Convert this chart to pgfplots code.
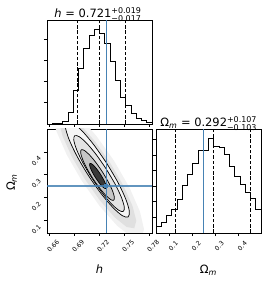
\documentclass[border=0pt]{standalone}
\usepackage{pgfplots}
\pgfplotsset{compat=1.18}
\usepackage{fontspec}
\setmainfont{DejaVu Sans}
\definecolor{truth}{RGB}{70,130,180}
\newcommand{\lbl}{\fontsize{11.5}{13}\selectfont}
\newcommand{\scr}{\fontsize{8}{9}\selectfont}
\begin{document}
\begin{tikzpicture}[x=1bp,y=1bp]
\useasboundingbox (0,0) rectangle (266,281);
\pgfplotsset{
  cornerax/.style={
    scale only axis, width=105bp, height=104bp,
    tick align=outside, major tick length=3bp,
    axis line style={line width=0.6pt},
    every tick/.style={black, line width=0.5pt},
    xtick pos=left, ytick pos=left,
    tick label style={font=\fontsize{6.3}{7}\selectfont},
    /pgf/number format/assume math mode=true,
    xticklabel style={rotate=45, anchor=center, yshift=-10bp, xshift=-4bp},
    yticklabel style={rotate=45, anchor=center, xshift=-12bp, yshift=-1bp},
    clip mode=individual,
  },
  hist/.style={const plot, black, line width=0.8pt},
  qline/.style={black, line width=0.7pt, dash pattern=on 3.5bp off 1.8bp},
  tline/.style={truth, line width=1.1pt},
  cont/.style={smooth, draw=black, line width=0.7pt},
}
% ---------- top: h histogram ----------
\begin{axis}[cornerax, at={(47bp,157bp)}, anchor=south west,
  xmin=0.6576, xmax=0.7836, ymin=0, ymax=4.88,
  xtick={0.66,0.69,0.72,0.75,0.78}, xticklabels={},
  ytick={1,2,3,4}, yticklabels={}]
\addplot[hist] coordinates {
(0.6576,0) (0.6576,0.00) (0.6639,0.02) (0.6702,0.05) (0.6765,0.10)
(0.6828,0.56) (0.6891,1.58) (0.6954,2.60) (0.7017,3.57) (0.7080,4.17)
(0.7143,4.44) (0.7206,4.25) (0.7269,3.77) (0.7332,2.95) (0.7395,2.05)
(0.7458,1.26) (0.7521,0.85) (0.7584,0.49) (0.7647,0.28) (0.7710,0.17)
(0.7773,0.06) (0.7836,0)};
\addplot[qline] coordinates {(0.694,0) (0.694,4.88)};
\addplot[qline] coordinates {(0.720,0) (0.720,4.88)};
\addplot[qline] coordinates {(0.752,0) (0.752,4.88)};
\addplot[tline] coordinates {(0.7285,0) (0.7285,4.88)};
\node[anchor=base, inner sep=0pt] at (axis description cs:0.485,1.02)
  {\lbl\itshape h\upshape{} = 0.721$^{\mbox{\scr +0.019}}_{\mbox{\scr −0.017}}$};
\end{axis}
% ---------- 2D panel ----------
\begin{axis}[cornerax, at={(47bp,48bp)}, anchor=south west,
  xmin=0.6576, xmax=0.7836, ymin=0.043, ymax=0.5,
  xtick={0.66,0.69,0.72,0.75,0.78}, xticklabels={0.66,0.69,0.72,0.75,0.78},
  ytick={0.1,0.2,0.3,0.4}, yticklabels={0.1,0.2,0.3,0.4}]
% sample cloud
\addplot[draw=none, fill=gray!11] coordinates {
(0.73803,0.36049) (0.71672,0.47032) (0.69573,0.55656) (0.67826,0.60610)
(0.66696,0.61137) (0.66356,0.57159) (0.66857,0.49281) (0.68123,0.38702)
(0.69962,0.27033) (0.72093,0.16050) (0.74192,0.07426) (0.75939,0.02472)
(0.77069,0.01945) (0.77409,0.05922) (0.76908,0.13801) (0.75642,0.24379)} -- cycle;
\addplot[draw=none, fill=gray!24] coordinates {
(0.73338,0.35100) (0.71536,0.44456) (0.69777,0.51846) (0.68329,0.56145)
(0.67414,0.56697) (0.67169,0.53421) (0.67633,0.46813) (0.68734,0.37880)
(0.70306,0.27982) (0.72108,0.18625) (0.73867,0.11236) (0.75315,0.06937)
(0.76230,0.06384) (0.76475,0.09661) (0.76011,0.16269) (0.74910,0.25202)} -- cycle;
% 2 sigma
\addplot[cont, fill=gray!8] coordinates {
(0.72910,0.35030) (0.71411,0.42901) (0.69971,0.49176) (0.68809,0.52901)
(0.68103,0.53507) (0.67958,0.50904) (0.68399,0.45485) (0.69357,0.38079)
(0.70686,0.29810) (0.72185,0.21939) (0.73625,0.15664) (0.74787,0.11939)
(0.75493,0.11333) (0.75638,0.13936) (0.75197,0.19355) (0.74240,0.26761)
(0.72910,0.35030)};
% 1.5 sigma
\addplot[cont, fill=gray!22] coordinates {
(0.72862,0.32459) (0.71680,0.38676) (0.70548,0.43640) (0.69636,0.46595)
(0.69086,0.47090) (0.68979,0.45051) (0.69333,0.40788) (0.70093,0.34950)
(0.71144,0.28425) (0.72326,0.22208) (0.73458,0.17244) (0.74370,0.14289)
(0.74920,0.13794) (0.75027,0.15833) (0.74673,0.20096) (0.73913,0.25934)
(0.72862,0.32459)};
% 1 sigma
\addplot[cont, fill=gray!45] coordinates {
(0.72408,0.31159) (0.71619,0.35302) (0.70861,0.38604) (0.70250,0.40564)
(0.69877,0.40882) (0.69801,0.39510) (0.70032,0.36658) (0.70536,0.32759)
(0.71236,0.28407) (0.72025,0.24264) (0.72783,0.20962) (0.73395,0.19003)
(0.73767,0.18685) (0.73843,0.20056) (0.73612,0.22908) (0.73108,0.26807)
(0.72408,0.31159)};
% 0.5 sigma
\addplot[cont, fill=black!78] coordinates {
(0.72186,0.30056) (0.71791,0.32125) (0.71409,0.33771) (0.71100,0.34743)
(0.70910,0.34893) (0.70868,0.34198) (0.70981,0.32765) (0.71230,0.30810)
(0.71579,0.28632) (0.71975,0.26563) (0.72356,0.24917) (0.72665,0.23945)
(0.72855,0.23795) (0.72897,0.24489) (0.72785,0.25923) (0.72535,0.27878)
(0.72186,0.30056)};
\addplot[truth, line width=1.6pt, opacity=0.85] coordinates {(0.6576,0.25) (0.7836,0.25)};
\addplot[tline] coordinates {(0.7285,0.043) (0.7285,0.5)};
\addplot[truth, only marks, mark=square*, mark size=1.4pt] coordinates {(0.7285,0.25)};
\node[anchor=base, inner sep=0pt] at (axis description cs:0.5,-0.394) {\lbl\itshape h};
\node[anchor=base, inner sep=0pt, rotate=90] at (axis description cs:-0.305,0.486)
  {\lbl Ω$_{\mbox{\scr\itshape m}}$};
\end{axis}
% ---------- right: Omega_m histogram ----------
\begin{axis}[cornerax, at={(156bp,48bp)}, anchor=south west,
  xmin=0.043, xmax=0.5, ymin=0, ymax=6.655,
  xtick={0.1,0.2,0.3,0.4}, xticklabels={0.1,0.2,0.3,0.4},
  ytick={1,2,3,4,5,6}, yticklabels={}]
\addplot[hist] coordinates {
(0.04300,0) (0.04300,0.43) (0.06585,0.66) (0.08870,1.11) (0.11155,1.54)
(0.13440,2.18) (0.15725,3.06) (0.18010,3.76) (0.20295,4.44) (0.22580,5.26)
(0.24865,5.30) (0.27150,6.05) (0.29435,5.56) (0.31720,5.47) (0.34005,5.02)
(0.36290,4.23) (0.38575,3.63) (0.40860,3.10) (0.43145,2.59) (0.45430,2.20)
(0.47715,1.54) (0.50000,0)};
\addplot[qline] coordinates {(0.1287,0) (0.1287,6.655)};
\addplot[qline] coordinates {(0.2920,0) (0.2920,6.655)};
\addplot[qline] coordinates {(0.4551,0) (0.4551,6.655)};
\addplot[tline] coordinates {(0.25,0) (0.25,6.655)};
\node[anchor=base, inner sep=0pt] at (axis description cs:0.502,1.02)
  {\lbl Ω$_{\mbox{\scr\itshape m}}$ = 0.292$^{\mbox{\scr +0.107}}_{\mbox{\scr −0.103}}$};
\node[anchor=base, inner sep=0pt] at (axis description cs:0.5,-0.394)
  {\lbl Ω$_{\mbox{\scr\itshape m}}$};
\end{axis}
\end{tikzpicture}
\end{document}
